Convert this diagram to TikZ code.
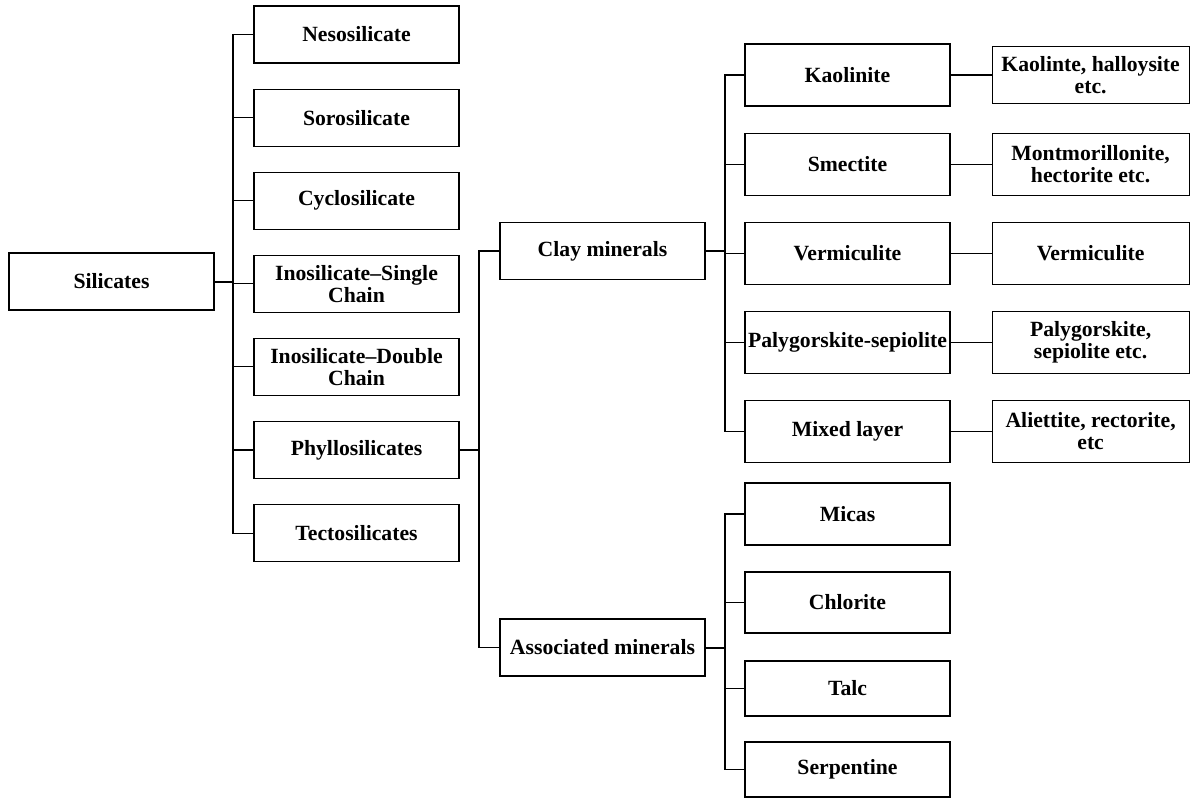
\documentclass[tikz,border=0pt]{standalone}
\usepackage{fontspec}
\setmainfont{Liberation Serif}
\usepackage{tikz}
\usetikzlibrary{positioning,calc}

\begin{document}
\begin{tikzpicture}[
    x=1pt, y=-1pt,
    node distance=25pt,
    boxnode/.style={draw, line width=1.1pt, align=center, inner sep=1pt,
        minimum width=205pt, minimum height=57pt,
        font=\bfseries\fontsize{21.7}{22}\selectfont},
    leafnode/.style={boxnode, minimum width=197pt, minimum height=62pt},
    link/.style={line width=1.1pt},
    thicklink/.style={line width=2pt}
]
\useasboundingbox (0,0) rectangle (1191,798);

% root and first level
\node[boxnode] (sil) at (111.5,281.5) {Silicates};
\node[boxnode] (neso) at (356.5,34.5) {Nesosilicate};
\node[boxnode, below=of neso] (soro) {Sorosilicate};
\node[boxnode, below=of soro] (cyclo) {Cyclosilicate};
\node[boxnode, below=of cyclo] (inosingle) {Inosilicate--Single\\Chain};
\node[boxnode, below=of inosingle] (inodouble) {Inosilicate--Double\\Chain};
\node[boxnode, below=of inodouble] (phyllo) {Phyllosilicates};
\node[boxnode, below=of phyllo] (tecto) {Tectosilicates};

% phyllosilicates
\node[boxnode] (clay) at (602.5,251) {Clay minerals};
\node[boxnode] (assoc) at (602.5,647.5) {Associated minerals};

% clay minerals
\node[boxnode, minimum height=62pt] (kaol) at (847.5,75) {Kaolinite};
\node[boxnode, minimum height=62pt, below=26pt of kaol] (smect) {Smectite};
\node[boxnode, minimum height=62pt, below=26pt of smect] (verm) {Vermiculite};
\node[boxnode, minimum height=62pt, below=26pt of verm] (paly) {Palygorskite-sepiolite};
\node[boxnode, minimum height=62pt, below=26pt of paly] (mixed) {Mixed layer};

\node[leafnode, minimum height=57pt, right=41pt of kaol] (kaolx) {Kaolinte, halloysite\\etc.};
\node[leafnode, right=41pt of smect] (smectx) {Montmorillonite,\\hectorite etc.};
\node[leafnode, right=41pt of verm] (vermx) {Vermiculite};
\node[leafnode, right=41pt of paly] (palyx) {Palygorskite,\\sepiolite etc.};
\node[leafnode, right=41pt of mixed] (mixedx) {Aliettite, rectorite,\\etc};

% associated minerals
\node[boxnode, minimum height=62pt] (micas) at (847.5,514) {Micas};
\node[boxnode, minimum height=61pt] (chlor) at (847.5,602.5) {Chlorite};
\node[boxnode, minimum height=55pt] (talc) at (847.5,688.5) {Talc};
\node[boxnode, minimum height=55pt] (serp) at (847.5,769.5) {Serpentine};

% trunks
\coordinate (trA) at (233,0);
\coordinate (trB) at (479,0);
\coordinate (trC) at (725,0);

\draw[link] (neso.west) -- (neso.west -| trA) -- (tecto.west -| trA) -- (tecto.west);
\foreach \n in {soro,cyclo,inosingle,inodouble,phyllo}
    \draw[link] (\n.west) -- (\n.west -| trA);
\draw[thicklink] (sil.east) -- (sil.east -| trA);

\draw[link] (clay.west) -- (clay.west -| trB) -- (assoc.west -| trB) -- (assoc.west);
\draw[link] (phyllo.east) -- (phyllo.east -| trB);

\draw[link] (kaol.west) -- (kaol.west -| trC) -- (mixed.west -| trC) -- (mixed.west);
\foreach \n in {smect,verm,paly}
    \draw[link] (\n.west) -- (\n.west -| trC);
\draw[thicklink] (clay.east) -- (clay.east -| trC);

\draw[link] (micas.west) -- (micas.west -| trC) -- (serp.west -| trC) -- (serp.west);
\foreach \n in {chlor,talc}
    \draw[link] (\n.west) -- (\n.west -| trC);
\draw[thicklink] (assoc.east) -- (assoc.east -| trC);

\foreach \a/\b in {kaol/kaolx,smect/smectx,verm/vermx,paly/palyx,mixed/mixedx}
    \draw[link] (\a) -- (\b);
\end{tikzpicture}
\end{document}
